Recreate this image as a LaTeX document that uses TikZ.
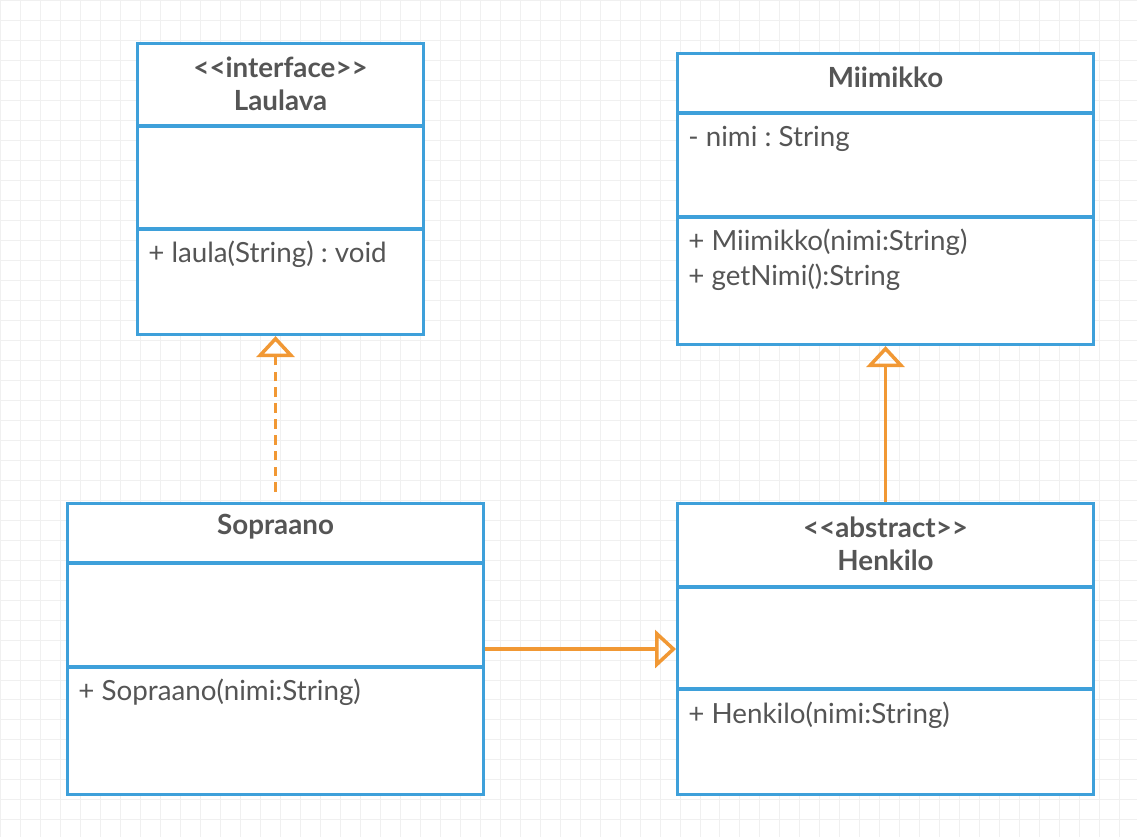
\documentclass[tikz,border=0pt]{standalone}
\usepackage{fontspec}
\setmainfont{Lato}
\usetikzlibrary{positioning, arrows.meta}
\frenchspacing

\definecolor{umlblue}{RGB}{62,160,218}
\definecolor{umlorange}{RGB}{241,152,52}
\definecolor{umltext}{RGB}{85,85,85}

\begin{document}
\begin{tikzpicture}[x=0.02cm, y=-0.02cm, font=\fontsize{15.8}{18.5}\selectfont, text=umltext,
  cls/.style={draw=umlblue, line width=1.8pt, fill=white, anchor=north west,
              minimum height=5.82cm, inner sep=0pt},
  divider/.style={draw=umlblue, line width=1.8pt},
  title/.style={font=\fontsize{15.8}{18.5}\selectfont\bfseries, align=center},
  member/.style={anchor=west, inner sep=0pt},
  rel/.style={draw=umlorange, line width=2pt,
              -{Triangle[open, length=0.42cm, width=0.76cm]}}]
  \useasboundingbox (0,0) rectangle (1137,837);
  \fill[white] (0,0) rectangle (1137,837);
  \draw[black!6, line width=0.4pt, step=0.4cm] (0,0) grid (1137,837);

  % classes
  \node[cls, minimum width=5.72cm] (laulava) at (136,42) {};
  \node[cls, minimum width=8.32cm] (miimikko) at (676,52) {};
  \node[cls, minimum width=8.32cm] (sopraano) at (66,502) {};
  \node[cls, minimum width=8.32cm] (henkilo) at (676,502) {};

  \draw[divider] (laulava.west |- 0,126) -- (laulava.east |- 0,126);
  \draw[divider] (laulava.west |- 0,229) -- (laulava.east |- 0,229);
  \draw[divider] (miimikko.west |- 0,113) -- (miimikko.east |- 0,113);
  \draw[divider] (miimikko.west |- 0,217) -- (miimikko.east |- 0,217);
  \draw[divider] (sopraano.west |- 0,563) -- (sopraano.east |- 0,563);
  \draw[divider] (sopraano.west |- 0,667) -- (sopraano.east |- 0,667);
  \draw[divider] (henkilo.west |- 0,587) -- (henkilo.east |- 0,587);
  \draw[divider] (henkilo.west |- 0,689) -- (henkilo.east |- 0,689);

  % texts
  \node[title] (laulavaname) at (laulava.north |- 0,84) {{<}{<}interface{>}{>}\\Laulava};
  \node[member] (laulaop) at (148,254) {+ laula(String) : void};
  \node[title] (miimikkoname) at (miimikko.north |- 0,77) {Miimikko};
  \node[member] (nimiattr) at (688,139) {- nimi : String};
  \node[member] (miimikkoop) at (688,242) {+ Miimikko(nimi:String)};
  \node[member] (getnimiop) at (688,277) {+ getNimi():String};
  \node[title] (sopraanoname) at (sopraano.north |- 0,527) {Sopraano};
  \node[member] (sopraanoop) at (78,692) {+ Sopraano(nimi:String)};
  \node[title] (henkiloname) at (henkilo.north |- 0,544) {{<}{<}abstract{>}{>}\\Henkilo};
  \node[member] (henkiloop) at (688,715) {+ Henkilo(nimi:String)};

  % relations
  \draw[rel, dashed, dash pattern=on 5.5pt off 3.5pt, shorten <=0.2cm]
    (sopraano.north) -- (sopraano.north |- laulava.south);
  \draw[rel] (henkilo.north) -- (miimikko.south);
  \draw[rel] (sopraano.east) -- (henkilo.west);
\end{tikzpicture}
\end{document}
